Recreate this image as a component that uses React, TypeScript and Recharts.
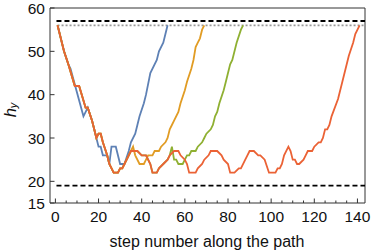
import React from 'react';
import { LineChart, Line, XAxis, YAxis, ReferenceLine } from 'recharts';

// Each series: [step, h_y] vertices
const blueSeries: [number, number][] = [
  [1, 56], [4, 50], [6, 47], [7, 46], [13, 35], [15, 37], [17, 34], [18, 32], [19, 30],
  [20, 28], [21, 28], [22, 26], [24, 26], [25, 24], [26, 28], [28, 28], [30, 24], [32, 24],
  [34, 27], [35, 29], [37, 31], [38, 33], [39, 35], [41, 38], [42, 40], [44, 45], [47, 48],
  [48, 50], [50, 52], [51, 54], [52, 56],
];

const orangeSeries: [number, number][] = [
  [1, 56], [4, 50], [6, 47], [9, 42], [11, 42], [14, 37], [15, 37], [17, 34], [18, 32],
  [19, 30], [20, 31], [21, 31], [22, 29], [24, 26], [25, 24], [27, 22], [29, 22], [30, 23],
  [31, 23], [32, 24], [34, 26], [35, 27], [36, 28], [37, 26], [39, 24], [41, 24], [42, 25],
  [43, 26], [45, 26], [46, 27], [48, 27], [49, 28], [51, 29], [52, 30], [53, 32], [54, 33],
  [55, 34], [57, 36], [58, 38], [60, 41], [61, 43], [63, 46], [64, 48], [65, 51], [66, 52],
  [67, 53], [68, 55], [69, 56],
];

const greenSeries: [number, number][] = [
  [1, 56], [4, 50], [6, 47], [9, 42], [11, 42], [14, 37], [15, 37], [17, 34], [18, 32],
  [19, 30], [20, 31], [21, 31], [22, 29], [24, 26], [25, 24], [27, 22], [29, 22], [30, 23],
  [31, 23], [32, 24], [34, 26], [35, 27], [38, 27], [40, 26], [42, 26], [44, 24], [45, 22],
  [47, 22], [48, 23], [50, 24], [52, 25], [53, 26], [54, 28], [55, 25], [56, 25], [57, 24],
  [59, 24], [60, 25], [61, 26], [62, 26], [63, 27], [65, 27], [66, 28], [68, 29], [69, 30],
  [70, 31], [72, 32], [73, 33], [74, 35], [75, 36], [76, 38], [78, 41], [79, 43], [80, 45],
  [81, 47], [82, 48], [84, 52], [86, 55], [87, 56],
];

const redSeries: [number, number][] = [
  [1, 56], [4, 50], [6, 47], [9, 42], [11, 42], [14, 37], [15, 37], [17, 34], [18, 32],
  [19, 30], [20, 31], [21, 31], [22, 29], [24, 26], [25, 24], [27, 22], [29, 22], [30, 23],
  [31, 23], [32, 24], [34, 26], [35, 27], [38, 27], [40, 26], [42, 26], [44, 24], [45, 22],
  [47, 22], [48, 23], [50, 24], [52, 25], [53, 26], [55, 27], [57, 27], [58, 26], [60, 25],
  [61, 24], [62, 22], [65, 22], [66, 23], [68, 24], [69, 25], [71, 26], [72, 27], [75, 27],
  [77, 26], [78, 25], [80, 24], [81, 22], [83, 22], [85, 23], [86, 23], [88, 25], [89, 26],
  [90, 27], [92, 27], [94, 26], [95, 26], [97, 25], [99, 22], [102, 22], [103, 23], [104, 23],
  [105, 24], [106, 26], [108, 28], [109, 27], [110, 25], [111, 25], [112, 24], [113, 24],
  [115, 25], [116, 26], [117, 27], [119, 27], [120, 28], [122, 29], [123, 29], [124, 30],
  [125, 32], [126, 32], [127, 33], [128, 35], [131, 39], [133, 43], [136, 49], [138, 52],
  [139, 54], [141, 56],
];

const xTicks: number[] = [0, 5, 10, 15, 20, 25, 30, 35, 40, 45, 50, 55, 60, 65, 70, 75, 80, 85, 90, 95, 100, 105, 110, 115, 120, 125, 130, 135, 140];
const yTicks: number[] = [15, 20, 30, 40, 50, 60];
const upperDashed = 57;
const upperDotted = 56;
const lowerDashed = 19;

const xDomain: [number, number] = [-2.5, 143.5];
const yDomain: [number, number] = [15, 60];

const toPoints = (s: [number, number][]) => s.map(([x, y]) => ({ x, y }));

const FONT = '"Liberation Sans", Arial, sans-serif';
const AXIS = '#333';

const XTick = (props: any) => {
  const { x, y, payload } = props;
  const v = payload.value as number;
  const major = v % 20 === 0;
  return (
    <g>
      <line x1={x} x2={x} y1={y} y2={y - (major ? 4.5 : 2.5)} stroke={AXIS} strokeWidth={1} />
      {major && (
        <text x={x} y={y + 19} textAnchor="middle" fontFamily={FONT} fontSize={15.5} fill="#111">
          {v}
        </text>
      )}
    </g>
  );
};

const YTick = (props: any) => {
  const { x, y, payload } = props;
  const v = payload.value as number;
  return (
    <g>
      <line x1={x} x2={x + 4.5} y1={y} y2={y} stroke={AXIS} strokeWidth={1} />
      <text x={x - 5} y={y + 5.5} textAnchor="end" fontFamily={FONT} fontSize={15.5} fill="#111">
        {v}
      </text>
    </g>
  );
};

export default function App() {
  return (
    <div style={{ position: 'absolute', left: 0, top: 0, width: 372, height: 252, background: '#fff' }}>
      <LineChart width={372} height={252} margin={{ top: 8, right: 7, left: 0, bottom: 0 }}>
        <XAxis
          type="number"
          dataKey="x"
          domain={xDomain}
          ticks={xTicks}
          tick={<XTick />}
          tickSize={0}
          tickMargin={0}
          tickLine={false}
          axisLine={{ stroke: AXIS, strokeWidth: 1 }}
          height={49}
          interval={0}
          allowDataOverflow
          label={{
            content: () => (
              <text x={207} y={247} textAnchor="middle" fontFamily={FONT} fontSize={16} fill="#111">
                step number along the path
              </text>
            ),
          }}
        />
        <YAxis
          type="number"
          domain={yDomain}
          ticks={yTicks}
          tick={<YTick />}
          tickSize={0}
          tickMargin={0}
          tickLine={false}
          axisLine={{ stroke: AXIS, strokeWidth: 1 }}
          width={50}
          interval={0}
          allowDataOverflow
          label={{
            content: () => (
              <text
                x={16}
                y={110}
                transform="rotate(-90, 16, 110)"
                textAnchor="middle"
                fontFamily={FONT}
                fill="#111"
              >
                <tspan fontStyle="italic" fontSize={16.5}>h</tspan>
                <tspan fontStyle="italic" fontSize={11} dy={1}>y</tspan>
              </text>
            ),
          }}
        />
        <ReferenceLine y={60} stroke={AXIS} strokeWidth={1} />
        <ReferenceLine x={143.5} stroke={AXIS} strokeWidth={1} />
        <ReferenceLine
          segment={[{ x: 0.5, y: upperDashed }, { x: 143.5, y: upperDashed }]}
          stroke="#000"
          strokeWidth={1.8}
          strokeDasharray="5 3"
        />
        <ReferenceLine
          segment={[{ x: 1, y: upperDotted }, { x: 143.5, y: upperDotted }]}
          stroke="#999"
          strokeWidth={1.6}
          strokeDasharray="2 2"
        />
        <ReferenceLine
          segment={[{ x: 0.5, y: lowerDashed }, { x: 143.5, y: lowerDashed }]}
          stroke="#000"
          strokeWidth={1.8}
          strokeDasharray="5 3"
        />
        <Line data={toPoints(blueSeries)} dataKey="y" type="linear" stroke="#5E81B5" strokeWidth={1.8} dot={false} isAnimationActive={false} />
        <Line data={toPoints(orangeSeries)} dataKey="y" type="linear" stroke="#E19C24" strokeWidth={1.8} dot={false} isAnimationActive={false} />
        <Line data={toPoints(greenSeries)} dataKey="y" type="linear" stroke="#8FB032" strokeWidth={1.8} dot={false} isAnimationActive={false} />
        <Line data={toPoints(redSeries)} dataKey="y" type="linear" stroke="#EB6235" strokeWidth={1.8} dot={false} isAnimationActive={false} />
      </LineChart>
    </div>
  );
}
